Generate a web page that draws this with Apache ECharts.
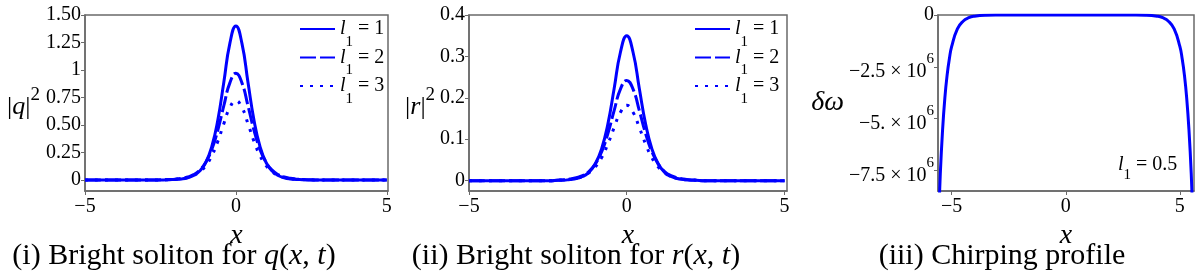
<!DOCTYPE html>
<html><head><meta charset="utf-8">
<script src="https://cdn.jsdelivr.net/npm/echarts@6/dist/echarts.min.js"></script>
<style>html,body{margin:0;padding:0;background:#fff}#c{width:1200px;height:272px}</style>
</head><body><div id="c"></div>
<script>
// ---- data ----
const xs = [-5,-4,-3.0,-2.8,-2.6,-2.4,-2.2,-2.0,-1.8,-1.6,-1.4,-1.2,-1.0,-0.8,-0.6,-0.4,-0.2,0,0.2,0.4,0.6,0.8,1.0,1.2,1.4,1.6,1.8,2.0,2.2,2.4,2.6,2.8,3.0,4,5];
const qL1 = [0,0,0.000,0.000,0.001,0.001,0.003,0.005,0.010,0.021,0.041,0.082,0.159,0.303,0.544,0.889,1.242,1.400,1.242,0.889,0.544,0.303,0.159,0.082,0.041,0.021,0.010,0.005,0.003,0.001,0.001,0.000,0.000,0,0];
const qL2 = [0,0,0.000,0.001,0.001,0.002,0.004,0.008,0.015,0.027,0.049,0.090,0.160,0.277,0.452,0.675,0.883,0.970,0.883,0.675,0.452,0.277,0.160,0.090,0.049,0.027,0.015,0.008,0.004,0.002,0.001,0.001,0.000,0,0];
const qL3 = [0,0,0.000,0.001,0.001,0.002,0.004,0.007,0.013,0.023,0.042,0.075,0.130,0.220,0.351,0.512,0.659,0.720,0.659,0.512,0.351,0.220,0.130,0.075,0.042,0.023,0.013,0.007,0.004,0.002,0.001,0.001,0.000,0,0];
const rL1 = [0,0,0.000,0.000,0.000,0.000,0.001,0.001,0.003,0.005,0.010,0.020,0.040,0.076,0.136,0.222,0.310,0.350,0.310,0.222,0.136,0.076,0.040,0.020,0.010,0.005,0.003,0.001,0.001,0.000,0.000,0.000,0.000,0,0];
const rL2 = [0,0,0.000,0.000,0.000,0.000,0.001,0.002,0.004,0.007,0.012,0.022,0.040,0.069,0.113,0.169,0.221,0.242,0.221,0.169,0.113,0.069,0.040,0.022,0.012,0.007,0.004,0.002,0.001,0.000,0.000,0.000,0.000,0,0];
const rL3 = [0,0,0.000,0.000,0.000,0.000,0.001,0.002,0.003,0.006,0.010,0.019,0.033,0.055,0.088,0.128,0.165,0.182,0.165,0.128,0.088,0.055,0.033,0.019,0.010,0.006,0.003,0.002,0.001,0.000,0.000,0.000,0.000,0,0];
const chirpX = [-5.6,-5.5,-5.4,-5.3,-5.2,-5.1,-5.0,-4.75,-4.5,-4.25,-4.0,-3.5,-3.0,-2.0,-1.0,0,1.0,2.0,3.0,3.5,4.0,4.25,4.5,4.75,5.0,5.1,5.2,5.3,5.4,5.5,5.6];
const chirpY = [-10.6e6,-7.69e6,-5.56e6,-4.01e6,-2.90e6,-2.10e6,-1.52e6,-0.673e6,-0.30e6,-0.132e6,-0.059e6,-0.0116e6,-0.0023e6,-0.0001e6,0,0,0,-0.0001e6,-0.0023e6,-0.0116e6,-0.059e6,-0.132e6,-0.30e6,-0.673e6,-1.52e6,-2.10e6,-2.90e6,-4.01e6,-5.56e6,-7.69e6,-10.6e6];
const xTicks = [-5,0,5];
const xTickLabels = ['\u22125','0','5'];
const yTicksQ = [0,0.25,0.5,0.75,1,1.25,1.5];
const yLabelsQ = ['0','0.25','0.50','0.75','1','1.25','1.50'];
const yTicksR = [0,0.1,0.2,0.3,0.4];
const yLabelsR = ['0','0.1','0.2','0.3','0.4'];
const yTicksC = [0,-2.5e6,-5e6,-7.5e6];
const yLabelsC = ['0','\u22122.5 \u00d7 10','\u22125. \u00d7 10','\u22127.5 \u00d7 10'];
const yExpC = ['','6','6','6'];
const legendVals = ['1','2','3'];
const captions = ['(i) Bright soliton for ','(ii) Bright soliton for ','(iii) Chirping profile'];

// ---- styles ----
const F = 'Liberation Serif';
const AX = '#6a6a6a';
const BLUE = '#0000ff';
const grids = [
  {left:85, top:15, width:303, height:176},
  {left:469, top:15, width:318, height:176},
  {left:938, top:15, width:256, height:176}
];
function lab(ticks, labels){
  return v => { for (let i=0;i<ticks.length;i++){ if (Math.abs(ticks[i]-v) < 1e-9*Math.max(1,Math.abs(v))) return labels[i]; } return ''; };
}
function xAxis(gi, min, max){
  return {type:'value', gridIndex:gi, min:min, max:max,
    axisLine:{show:true, onZero:false, lineStyle:{color:AX, width:1.5}},
    axisTick:{show:true, inside:false, length:4, customValues:xTicks, lineStyle:{color:AX, width:1}},
    axisLabel:{customValues:xTicks, formatter:lab(xTicks,xTickLabels), margin:6, color:'#000', fontFamily:F, fontSize:20},
    splitLine:{show:false},
    name:'x', nameLocation:'middle', nameGap:19,
    nameTextStyle:{fontFamily:F, fontStyle:'italic', fontSize:28, color:'#000'}};
}
function yAxis(gi, min, max, ticks, fmt, name, gap, rich){
  return {type:'value', gridIndex:gi, min:min, max:max,
    axisLine:{show:true, onZero:false, lineStyle:{color:AX, width:1.5}},
    axisTick:{show:true, inside:false, length:4, customValues:ticks, lineStyle:{color:AX, width:1}},
    axisLabel:{customValues:ticks, formatter:fmt, margin:4, color:'#000', fontFamily:F, fontSize:20,
      rich:{m:{fontFamily:F,fontSize:20,color:'#000',lineHeight:30,verticalAlign:'bottom'},
            e:{fontFamily:F,fontSize:15,color:'#000',verticalAlign:'top'},
            z:{fontFamily:F,fontSize:20,color:'#000',lineHeight:20}}},
    splitLine:{show:false},
    name:name, nameLocation:'middle', nameRotate:0, nameGap:gap,
    nameTextStyle:{fontFamily:F, fontSize:26, color:'#000', rich:rich}};
}
const nameRich = {
  b:{fontFamily:F,fontSize:26,color:'#000',lineHeight:34,verticalAlign:'bottom'},
  i:{fontFamily:F,fontSize:26,fontStyle:'italic',color:'#000',lineHeight:34,verticalAlign:'bottom'},
  e:{fontFamily:F,fontSize:19,color:'#000',verticalAlign:'top'},
  d:{fontFamily:F,fontSize:28,fontStyle:'italic',color:'#000'}
};
function line(name, gi, xsArr, ys, type){
  const ls = {color:BLUE, width:3, type:type, cap:'butt'};
  return {type:'line', name:name, xAxisIndex:gi, yAxisIndex:gi, data:xsArr.map((x,i)=>[x,ys[i]]),
    symbol:'none', smooth:true, lineStyle:ls, itemStyle:{color:BLUE, opacity:0}, emphasis:{disabled:true}, animation:false};
}
const legRich = {
  l:{fontFamily:F,fontSize:20,fontStyle:'italic',color:'#000',lineHeight:41},
  s:{fontFamily:F,fontSize:15,color:'#000',verticalAlign:'bottom'},
  t:{fontFamily:F,fontSize:20,color:'#000',lineHeight:41}
};
function legend(names, left){
  return {data:names, orient:'vertical', left:left, top:19, itemWidth:35, itemHeight:14, itemGap:-2, padding:0,
    selectedMode:false, formatter:n => '{l|l}{s|1}{t| = ' + legendVals[names.indexOf(n)] + '}',
    itemStyle:{opacity:0},
    textStyle:{color:'#000', rich:legRich}};
}
const capRich = {
  r:{fontFamily:F,fontSize:30,color:'#000'},
  i:{fontFamily:F,fontSize:30,fontStyle:'italic',color:'#000'}
};
const DASH = [16,4], DOT = [3,7];
const option = {
  animation:false,
  grid: grids.map(g => Object.assign({show:true, borderColor:AX, borderWidth:1.5, backgroundColor:'transparent'}, g)),
  xAxis:[xAxis(0,-5,5.04), xAxis(1,-5,5.08), xAxis(2,-5.6,5.62)],
  yAxis:[
    yAxis(0,-0.1,1.5,yTicksQ,lab(yTicksQ,yLabelsQ),'{b||}{i|q}{b||}{e|2}',45,nameRich),
    yAxis(1,-0.025,0.4,yTicksR,lab(yTicksR,yLabelsR),'{b||}{i|r}{b||}{e|2}',31,nameRich),
    yAxis(2,-8.5e6,0,yTicksC,v => { for (let i=0;i<yTicksC.length;i++){ if (Math.abs(yTicksC[i]-v)<1) return yExpC[i] ? '{m|'+yLabelsC[i]+'}{e|'+yExpC[i]+'}' : '{z|'+yLabelsC[i]+'}'; } return ''; },'{d|\u03b4\u03c9}',93,nameRich)
  ],
  legend:[legend(['q1','q2','q3'],299), legend(['r1','r2','r3'],694)],
  series:[
    line('q1',0,xs,qL1,'solid'), line('q2',0,xs,qL2,DASH), line('q3',0,xs,qL3,DOT),
    line('r1',1,xs,rL1,'solid'), line('r2',1,xs,rL2,DASH), line('r3',1,xs,rL3,DOT),
    line('c',2,chirpX,chirpY,'solid')
  ],
  graphic:[
    {type:'text', x:174, y:256, style:{text:'{r|'+captions[0]+'}{i|q}{r|(}{i|x}{r|, }{i|t}{r|)}', rich:capRich, align:'center', verticalAlign:'middle'}},
    {type:'text', x:576, y:256, style:{text:'{r|'+captions[1]+'}{i|r}{r|(}{i|x}{r|, }{i|t}{r|)}', rich:capRich, align:'center', verticalAlign:'middle'}},
    {type:'text', x:1002, y:256, style:{text:'{r|'+captions[2]+'}', rich:capRich, align:'center', verticalAlign:'middle'}},
    {type:'text', x:1118, y:165, style:{text:'{l|l}{s|1}{t| = 0.5}', align:'left', verticalAlign:'middle',
      rich:{l:{fontFamily:F,fontSize:20,fontStyle:'italic',fill:'#000',lineHeight:35},
            s:{fontFamily:F,fontSize:15,fill:'#000',verticalAlign:'bottom'},
            t:{fontFamily:F,fontSize:20,fill:'#000',lineHeight:35}}}}
  ]
};
const chart = echarts.init(document.getElementById('c'), null, {renderer:'canvas'});
chart.setOption(option);
</script></body></html>
